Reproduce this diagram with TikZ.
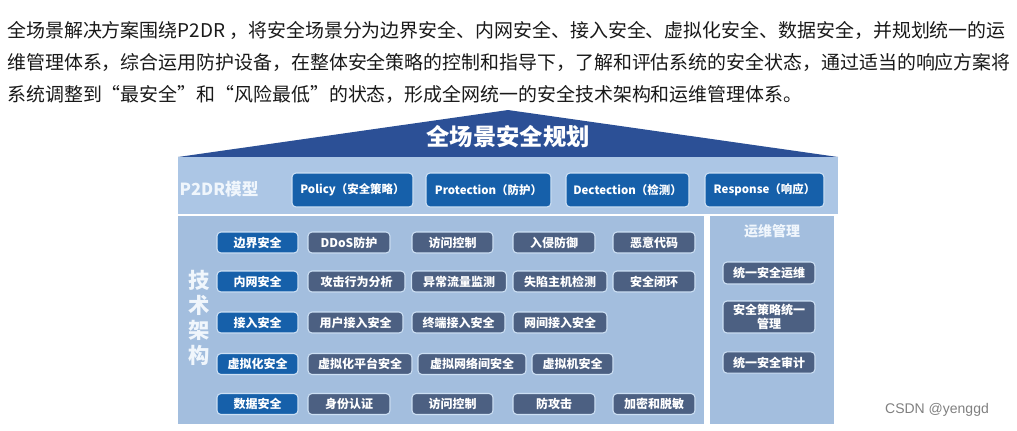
\documentclass[tikz,border=0pt]{standalone}
\usepackage{fontspec}
\setmainfont{Noto Sans CJK SC}
\newfontfamily\markfont{Liberation Sans}
\usepackage{tikz}
\usetikzlibrary{positioning}

\definecolor{roofblue}{RGB}{44,80,150}
\definecolor{bandblue}{RGB}{172,198,229}
\definecolor{bodyblue}{RGB}{163,190,222}
\definecolor{keyblue}{RGB}{22,96,170}
\definecolor{slate}{RGB}{76,96,130}
\definecolor{edgeblue}{RGB}{205,224,244}
\definecolor{softwhite}{RGB}{240,246,252}

\begin{document}
\begin{tikzpicture}[x=0.75pt, y=-0.75pt,
  para/.style={anchor=west, inner sep=0pt, text=black!90, font=\fontsize{14.2}{16}\selectfont},
  kbox/.style={draw=edgeblue, line width=0.8pt, fill=keyblue, rounded corners=3pt, text=white, inner sep=1pt, minimum height=15.75pt, font=\fontsize{9}{10}\selectfont\bfseries},
  gbox/.style={kbox, fill=slate},
  pbox/.style={kbox, minimum height=25.5pt, font=\fontsize{8.6}{10}\selectfont\bfseries},
  obox/.style={gbox, align=center, font=\fontsize{9}{10.5}\selectfont\bfseries},
  wd/.style={minimum width=#1*0.75pt}
]
\useasboundingbox[fill=white] (0,0) rectangle (1017,430);

%--- intro text ---
\node[para] (line1) at (7,30) {全场景解决方案围绕P2DR ，将安全场景分为边界安全、内网安全、接入安全、虚拟化安全、数据安全，并规划统一的运};
\node[para] (line2) at (7,62) {维管理体系，综合运用防护设备，在整体安全策略的控制和指导下，了解和评估系统的安全状态，通过适当的响应方案将};
\node[para] (line3) at (7,94) {系统调整到“最安全”和“风险最低”的状态，形成全网统一的安全技术架构和运维管理体系。};

%--- roof ---
\fill[roofblue] (178,157) -- (508,110) -- (838,157) -- cycle;
\node[text=white, font=\fontsize{17.5}{20}\selectfont\bfseries] (title) at (508,137) {全场景安全规划};

%--- P2DR band ---
\fill[bandblue] (178,157) rectangle (838,214);
\node[text=softwhite, font=\fontsize{12.5}{14}\selectfont\bfseries] (p2dr) at (219,189) {P2DR模型};
\node[pbox, wd=121] (policy) at (352.5,190) {Policy（安全策略）};
\node[pbox, wd=125] (protect) at (488.5,190) {Protection（防护）};
\node[pbox, wd=123] (detect) at (627.5,190) {Dectection（检测）};
\node[pbox, wd=119] (respond) at (764.5,190) {Response（响应）};

%--- technical architecture ---
\fill[bodyblue] (178,216) rectangle (704,424);
\node[text=softwhite, align=center, font=\fontsize{16}{18.6}\selectfont\bfseries] (tech) at (199,318) {技\\术\\架\\构};

% row 1
\node[kbox, wd=81] (bj) at (257.5,242.5) {边界安全};
\node[gbox, wd=82] (ddos) at (349,242.5) {DDoS防护};
\node[gbox, wd=81] (fwkz) at (452.5,242.5) {访问控制};
\node[gbox, wd=82] (rqfy) at (554,242.5) {入侵防御};
\node[gbox, wd=82] (eydm) at (654,242.5) {恶意代码};
% row 2
\node[kbox, wd=81] (nw) at (257.5,281.5) {内网安全};
\node[gbox, wd=97] (gjfx) at (356.5,281.5) {攻击行为分析};
\node[gbox, wd=95] (ycll) at (459,281.5) {异常流量监测};
\node[gbox, wd=94] (sxzj) at (560,281.5) {失陷主机检测};
\node[gbox, wd=82] (aqbh) at (654,281.5) {安全闭环};
% row 3
\node[kbox, wd=81] (jr) at (257.5,322.5) {接入安全};
\node[gbox, wd=95] (yhjr) at (355.5,322.5) {用户接入安全};
\node[gbox, wd=93] (zdjr) at (458.5,322.5) {终端接入安全};
\node[gbox, wd=94] (wjjr) at (560,322.5) {网间接入安全};
% row 4
\node[kbox, wd=81] (xnh) at (257.5,364) {虚拟化安全};
\node[gbox, wd=104] (xnpt) at (360,364) {虚拟化平台安全};
\node[gbox, wd=108] (xnwl) at (472,364) {虚拟网络间安全};
\node[gbox, wd=81] (xnj) at (572.5,364) {虚拟机安全};
% row 5
\node[kbox, wd=81] (sj) at (257.5,404) {数据安全};
\node[gbox, wd=82] (sfrz) at (349,404) {身份认证};
\node[gbox, wd=81] (fwkz2) at (452.5,404) {访问控制};
\node[gbox, wd=82] (fgj) at (554,404) {防攻击};
\node[gbox, wd=82] (jmtm) at (654,404) {加密和脱敏};

%--- operations ---
\fill[bodyblue] (710,216) rectangle (834,424);
\node[text=softwhite, font=\fontsize{10.5}{12}\selectfont\bfseries] (ops) at (772,231) {运维管理};
\node[obox, wd=92, minimum height=16.5pt] (tyyw) at (769,273) {统一安全运维};
\node[obox, wd=92, minimum height=24pt] (clgl) at (769,317) {安全策略统一\\管理};
\node[obox, wd=92, minimum height=16pt] (tysj) at (769,362.5) {统一安全审计};

%--- watermark ---
\node[text=black!50, font=\markfont\fontsize{10.5}{12}\selectfont] (mark) at (937,410) {CSDN @yenggd};
\end{tikzpicture}
\end{document}
